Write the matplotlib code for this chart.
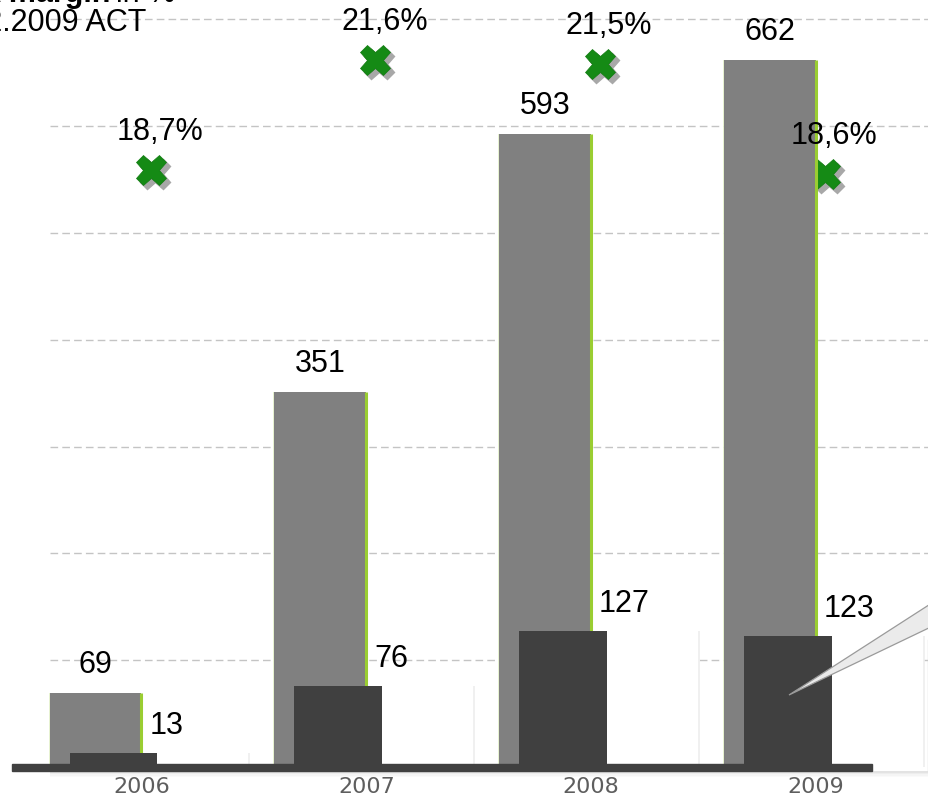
import matplotlib
matplotlib.use("Agg")
import matplotlib.pyplot as plt
from matplotlib.patches import Rectangle, Polygon
from matplotlib.lines import Line2D
import matplotlib.transforms as mtransforms
import numpy as np

# ---------------- data ----------------
years = ["2006", "2007", "2008", "2009"]
sales = [69, 351, 593, 662]          # light grey bars
ebitda = [13, 76, 127, 123]          # dark bars
margin = [18.7, 21.6, 21.5, 18.6]    # green crosses (%)
margin_labels = ["18,7%", "21,6%", "21,5%", "18,6%"]
grid_values = [100, 200, 300, 400, 500, 600, 700]

W, H = 929, 799
fig = plt.figure(figsize=(W / 100, H / 100), dpi=100)
ax = fig.add_axes([0, 0, 1, 1])
ax.set_xlim(-0.4248, 3.7078)
ax.set_ylim(-30, 718.2)
ax.axis("off")

ax2 = ax.twinx()
ax2.set_xlim(-0.4248, 3.7078)
ax2.set_ylim(2.12, 23.18)
ax2.axis("off")

LAB = "Liberation Sans"
FS = 22
x = np.arange(len(years))
light_w = 0.409
dark_off = 0.08
dark_w = 0.39

# grid lines
for g in grid_values:
    ax.axhline(g, xmin=50 / W, xmax=1, color="#c4c4c4", lw=1.0,
               ls=(0, (5.5, 3)), zorder=0)

# white label boxes right of dark bars (cover the grid)
box_left = x + dark_off + dark_w / 2
ax.bar(box_left, ebitda, width=0.41, align="edge", color="white",
       edgecolor="none", zorder=1)
for bl, v in zip(box_left, ebitda):
    ax.vlines(bl + 0.41, 0, v, color="#ededed", lw=1.2, zorder=1)

# margin crosses (behind bars), with grey shadow
shadow_tr = mtransforms.offset_copy(ax2.transData, fig=fig, x=4, y=-4, units="dots")
mx = x + 0.245
ax.add_line(Line2D(mx, margin, transform=shadow_tr, ls="none", marker="X",
                   ms=22, color="#a8a8a8", mec="#a8a8a8", zorder=1.5))
ax.add_line(Line2D(mx, margin, transform=ax2.transData, ls="none", marker="X",
                   ms=22, color="#158a15", mec="#0f7a0f", mew=0.5, zorder=1.6))

# light bars
ax.bar(x, sales, width=light_w, color="#808080", edgecolor="none", zorder=2)
ax.vlines(x + light_w / 2, 0, sales, color="#9acd32", lw=2.2, zorder=2.1)
ax.vlines(x - light_w / 2, 0, sales, color="#e3f0c8", lw=1.2, zorder=1.9)

# dark bars
ax.bar(x + dark_off, ebitda, width=dark_w, color="#404040", edgecolor="none", zorder=3)

# baseline
blend = mtransforms.blended_transform_factory(ax.transAxes, ax.transData)
ax.add_patch(Rectangle((12 / W, -4.2), (872 - 12) / W, 7.0, transform=blend,
                       color="#404040", zorder=4))
for i, a in enumerate([0.35, 0.22, 0.12, 0.05]):
    ax.add_patch(Rectangle((50 / W, -5.2 - i * 1.4), (928 - 50) / W, 1.4,
                           transform=blend, color="#b0b0b0", alpha=a,
                           lw=0, zorder=0.5))

# value labels
for xi, v in zip(x, sales):
    ax.annotate(str(v), (xi, v), xytext=(0, 28), textcoords="offset pixels",
                ha="center", va="center", fontsize=FS, family=LAB, zorder=6)
for xi, v in zip(x, ebitda):
    ax.annotate(str(v), (xi + light_w / 2, v), xytext=(8, 27),
                textcoords="offset pixels", ha="left", va="center",
                fontsize=FS, family=LAB, zorder=6)
for xi, m, lab in zip(mx, margin, margin_labels):
    ax2.annotate(lab, (xi, m), xytext=(9, 38), textcoords="offset pixels",
                 ha="center", va="center", fontsize=FS, family=LAB, zorder=6)

# year labels
for xi, yl in zip(x, years):
    ax.annotate(yl, (xi + 0.205, 0), xytext=(0, -20), textcoords="offset pixels",
                ha="center", va="center", fontsize=16, color="#5e5e5e",
                family="DejaVu Sans", zorder=6)

# callout wedge on the right
wedge = Polygon([[789, H - 695], [935, H - 601], [935, H - 625]], closed=True,
                transform=None, facecolor="#ebebeb", edgecolor="#9a9a9a",
                lw=0.9, zorder=7)
fig.patches.append(wedge)
fig.add_artist(Line2D([928, 928], [H - 770, H - 640], transform=None,
                      color="#d8d8d8", lw=1.0))

# top-left header (cut off by the crop, as in the source image)
fig.text(110 / W, 1 + 6 / H, "EBITDA margin", ha="right", va="center",
         fontsize=FS, fontweight="bold", family=LAB)
fig.text(116 / W, 1 + 6 / H, "in %", ha="left", va="center",
         fontsize=FS, family=LAB)
fig.text(146 / W, 1 - 23 / H, "31.12.2009 ACT", ha="right", va="center",
         fontsize=FS, family=LAB)

fig.savefig("out.png", dpi=100)
